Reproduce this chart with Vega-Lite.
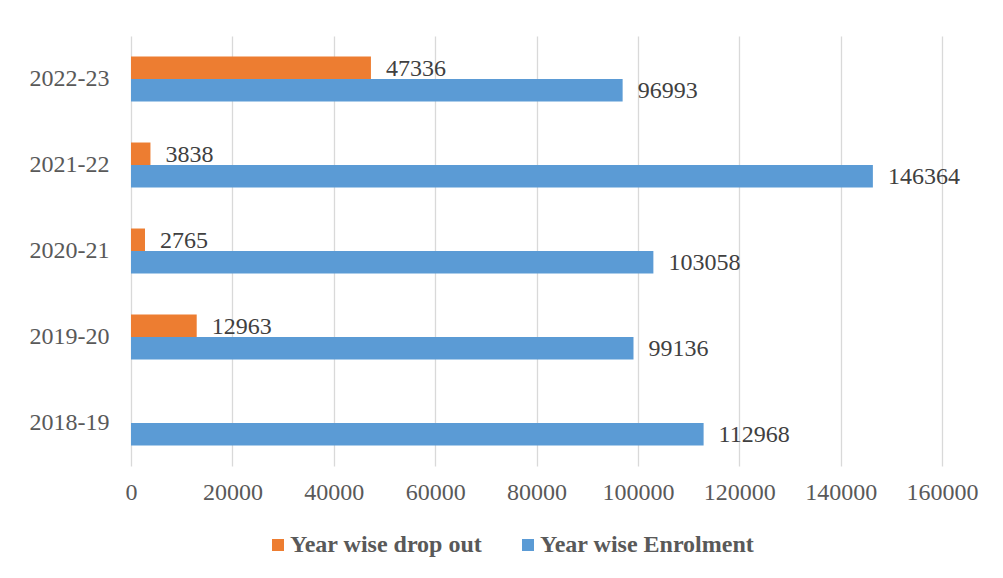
{
  "$schema": "https://vega.github.io/schema/vega-lite/v6.json",
  "width": 811,
  "height": 430,
  "autosize": {"type": "none"},
  "padding": {"left": 131, "top": 36, "right": 61, "bottom": 112},
  "background": "white",
  "config": {
    "font": "Liberation Serif",
    "view": {"stroke": null}
  },
  "data": {
    "values": [
      {"year": "2022-23", "series": "Year wise drop out", "value": 47336},
      {"year": "2022-23", "series": "Year wise Enrolment", "value": 96993},
      {"year": "2021-22", "series": "Year wise drop out", "value": 3838},
      {"year": "2021-22", "series": "Year wise Enrolment", "value": 146364},
      {"year": "2020-21", "series": "Year wise drop out", "value": 2765},
      {"year": "2020-21", "series": "Year wise Enrolment", "value": 103058},
      {"year": "2019-20", "series": "Year wise drop out", "value": 12963},
      {"year": "2019-20", "series": "Year wise Enrolment", "value": 99136},
      {"year": "2018-19", "series": "Year wise Enrolment", "value": 112968}
    ]
  },
  "encoding": {
    "y": {
      "field": "year",
      "type": "nominal",
      "scale": {"domain": ["2022-23", "2021-22", "2020-21", "2019-20", "2018-19"], "paddingInner": 0.477, "paddingOuter": 0.2385},
      "axis": {"title": null, "ticks": false, "domain": false, "labelFontSize": 24, "labelColor": "#595959", "labelPadding": 22, "labelFont": "Liberation Serif"}
    },
    "yOffset": {
      "field": "series",
      "type": "nominal",
      "scale": {"domain": ["Year wise drop out", "Year wise Enrolment"], "paddingInner": 0, "paddingOuter": 0}
    },
    "x": {
      "field": "value",
      "type": "quantitative",
      "scale": {"domain": [0, 160000], "nice": false},
      "axis": {"title": null, "values": [0, 20000, 40000, 60000, 80000, 100000, 120000, 140000, 160000], "format": "d", "ticks": false, "domain": false, "grid": true, "gridColor": "#d9d9d9", "gridWidth": 1.3, "labelFontSize": 24, "labelColor": "#595959", "labelPadding": 14, "labelFont": "Liberation Serif", "labelFlush": false, "labelOverlap": false}
    }
  },
  "layer": [
    {
      "mark": {"type": "bar"},
      "encoding": {
        "color": {
          "field": "series",
          "type": "nominal",
          "scale": {"domain": ["Year wise drop out", "Year wise Enrolment"], "range": ["#ED7D31", "#5B9BD5"]},
          "legend": {
            "title": null,
            "orient": "none",
            "direction": "horizontal",
            "legendX": 135,
            "legendY": 497,
            "symbolType": "square",
            "symbolSize": 144,
            "symbolStrokeWidth": 0,
            "labelFontSize": 24,
            "labelFontWeight": "bold",
            "labelColor": "#595959",
            "labelFont": "Liberation Serif",
            "labelOffset": 0,
            "columnPadding": 33,
            "labelLimit": 400
          }
        }
      }
    },
    {
      "mark": {"type": "text", "align": "left", "baseline": "middle", "dx": 15, "dy": 1, "fontSize": 24, "color": "#404040", "font": "Liberation Serif"},
      "encoding": {
        "text": {"field": "value", "type": "quantitative", "format": "d"}
      }
    }
  ]
}
